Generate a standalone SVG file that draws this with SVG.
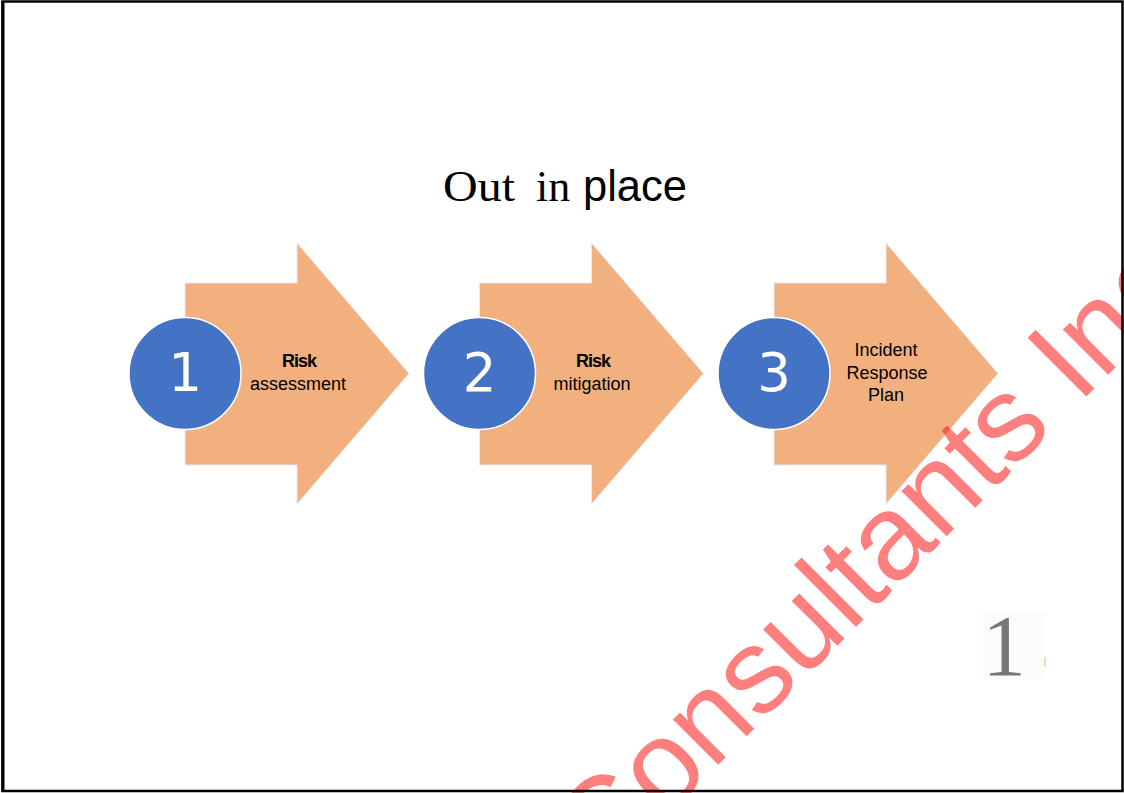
<svg xmlns="http://www.w3.org/2000/svg" width="1124" height="793" viewBox="0 0 1124 793">
<style>
.arrow{fill:#F2B07F;stroke:#e4e8ef;stroke-width:1}
.badge{fill:#4472C4;stroke:#ffffff;stroke-width:1.5}
.num{font-family:"DejaVu Sans",sans-serif;font-size:53px;fill:#ffffff;text-anchor:middle}
.lbl{font-family:"Liberation Sans",Arial,sans-serif;font-size:18px;fill:#000000;text-anchor:middle}
.b{font-weight:bold;font-size:18px;letter-spacing:-1px}
</style>
<defs>
<polygon id="arrowShape" class="arrow" points="185,283 297,283 297,243 409,373.5 297,504 297,465 185,465"/>
</defs>
<rect x="0" y="0" width="1124" height="793" fill="#ffffff"/>
<g id="title">
<text x="443" y="201" font-family="Liberation Serif,'Times New Roman',serif" font-size="44" fill="#000" textLength="72" lengthAdjust="spacingAndGlyphs">Out</text>
<text x="536" y="201" font-family="Liberation Serif,'Times New Roman',serif" font-size="44" fill="#000">in</text>
<text x="583" y="201" font-family="Liberation Sans,Arial,sans-serif" font-size="43.5" fill="#000">place</text>
</g>
<g id="connectors"></g>
<g id="step1">
<use href="#arrowShape"/>
<circle class="badge" cx="185" cy="373.5" r="56"/>
<text class="num" x="185" y="391">1</text>
<text class="lbl b" x="299" y="367">Risk</text>
<text class="lbl" x="298" y="390">assessment</text>
</g>
<g id="step2">
<use href="#arrowShape" transform="translate(294.5,0)"/>
<circle class="badge" cx="479.5" cy="373.5" r="56"/>
<text class="num" x="479.5" y="391">2</text>
<text class="lbl b" x="593" y="367">Risk</text>
<text class="lbl" x="592" y="390">mitigation</text>
</g>
<g id="step3">
<use href="#arrowShape" transform="translate(589,0)"/>
<circle class="badge" cx="774" cy="373.5" r="56"/>
<text class="num" x="774" y="391">3</text>
<text class="lbl" x="886" y="356">Incident</text>
<text class="lbl" x="887" y="379">Response</text>
<text class="lbl" x="886" y="401">Plan</text>
</g>
<g id="page-number">
<rect x="983" y="612" width="62" height="68" fill="#fbfbfb"/>
<text x="1004" y="675" font-family="Liberation Serif,'Times New Roman',serif" font-size="87" fill="#777777" text-anchor="middle">1</text>
<line x1="1045" y1="657" x2="1045" y2="666" stroke="#f0b060" stroke-width="1"/>
</g>
<g id="watermark">
<text transform="translate(603,880) rotate(-45)" font-family="Liberation Sans,Arial,sans-serif" font-size="121" fill="#ff0000" fill-opacity="0.5">Consultants Inc</text>
</g>
<rect x="2.5" y="1.5" width="1120" height="789.5" fill="none" stroke="#000000" stroke-width="2.5"/>
<line x1="3" y1="1" x2="3" y2="792" stroke="#000" stroke-width="3"/>
</svg>
